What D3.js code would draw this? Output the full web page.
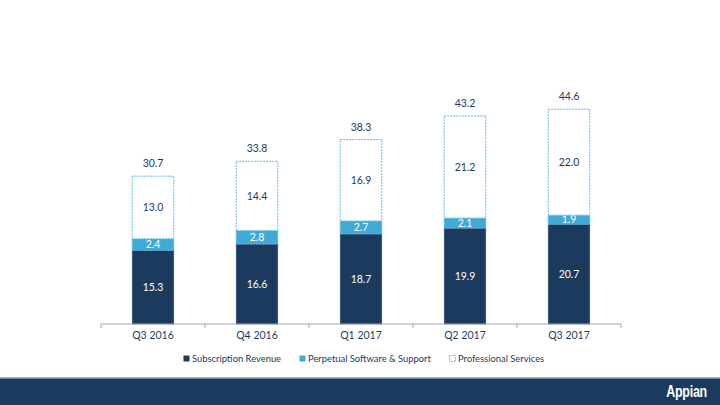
<!DOCTYPE html>
<html><head><meta charset="utf-8">
<script src="https://cdn.jsdelivr.net/npm/d3@7"></script>
<style>body{margin:0;background:#fff}svg{display:block}</style>
</head><body>
<script>
const categories = ["Q3 2016","Q4 2016","Q1 2017","Q2 2017","Q3 2017"];
const subscription = [15.3,16.6,18.7,19.9,20.7];
const perpetual = [2.4,2.8,2.7,2.1,1.9];
const professional = [13.0,14.4,16.9,21.2,22.0];
const totals = [30.7,33.8,38.3,43.2,44.6];
const seriesNames = ["Subscription Revenue","Perpetual Software & Support","Professional Services"];

const W=720,H=405;
const font="Lato, 'Open Sans', sans-serif";
const dark="#1c3a5e", light="#41a9d3", dash="#5fbbe3", txt="#1f3a5c";
const svg=d3.select("body").append("svg").attr("width",W).attr("height",H);

const x=d3.scaleBand().domain(categories).range([101,621]).paddingInner(0.6).paddingOuter(0.3);
const y=d3.scaleLinear().domain([0,50]).range([324,324-50*4.815]);

const rows=categories.map((c,i)=>({c,s:subscription[i],p:perpetual[i],ps:professional[i],t:totals[i]}));
const stack=d3.stack().keys(["s","p","ps"])(rows);
const fills=[dark,light,"#fff"];
stack.forEach((layer,li)=>{
  const g=svg.append("g");
  g.selectAll("rect").data(layer).join("rect")
    .attr("x",d=>x(d.data.c)).attr("width",x.bandwidth())
    .attr("y",d=>y(d[1])).attr("height",d=>y(d[0])-y(d[1]))
    .attr("fill",fills[li])
    .attr("stroke",li===0?"#3b5577":dash)
    .attr("stroke-width",li===0?0.6:1)
    .attr("stroke-dasharray",li===0?null:"2,1");
  g.selectAll("text").data(layer).join("text")
    .attr("x",d=>x(d.data.c)+x.bandwidth()/2)
    .attr("y",d=>(y(d[0])+y(d[1]))/2)
    .attr("dy","0.35em").attr("text-anchor","middle")
    .attr("font-family",font).attr("font-size",10.5)
    .attr("fill",li===2?txt:"#fff")
    .text(d=>(d[1]-d[0]).toFixed(1));
});
// totals
svg.append("g").selectAll("text").data(rows).join("text")
  .attr("x",d=>x(d.c)+x.bandwidth()/2).attr("y",d=>y(d.t)-9)
  .attr("text-anchor","middle").attr("font-family",font).attr("font-size",10.5)
  .attr("fill",txt).text(d=>d.t.toFixed(1));

// axis
const ax=svg.append("g").attr("transform","translate(0,324)");
ax.append("line").attr("x1",101).attr("x2",621).attr("stroke","#a6a6a6").attr("stroke-width",1);
const bounds=d3.range(categories.length+1).map(i=>101+i*x.step());
ax.selectAll("line.t").data(bounds).join("line").attr("class","t")
  .attr("x1",d=>d).attr("x2",d=>d).attr("y1",0).attr("y2",4).attr("stroke","#a6a6a6");
ax.selectAll("text").data(categories).join("text")
  .attr("x",d=>x(d)+x.bandwidth()/2).attr("y",15).attr("text-anchor","middle")
  .attr("font-family",font).attr("font-size",10.5).attr("fill",txt).text(d=>d);

// legend
const legX=[183,299,449];
const lg=svg.append("g");
seriesNames.forEach((n,i)=>{
  lg.append("rect").attr("x",legX[i]+0.5).attr("y",355.5).attr("width",6).attr("height",6)
    .attr("fill",i===2?"#fff":fills[i]).attr("stroke",i===2?dash:"none").attr("stroke-dasharray",i===2?"1.5,1":null);
  lg.append("text").attr("x",legX[i]+9).attr("y",362).attr("font-family",font).attr("font-size",9.4)
    .attr("fill",txt).text(n);
});

// footer
svg.append("rect").attr("x",0).attr("y",377).attr("width",W).attr("height",1.5).attr("fill","#a9afb8");
svg.append("rect").attr("x",0).attr("y",378.5).attr("width",W).attr("height",H-378.5).attr("fill","#1b3a5f");
svg.append("text").attr("transform","translate(707,397) scale(0.78,1)").attr("text-anchor","end")
  .attr("font-family","'Liberation Sans',sans-serif").attr("font-weight","bold")
  .attr("font-size",16).attr("fill","#fff").attr("letter-spacing",-0.3).text("Appian");
</script>
</body></html>
